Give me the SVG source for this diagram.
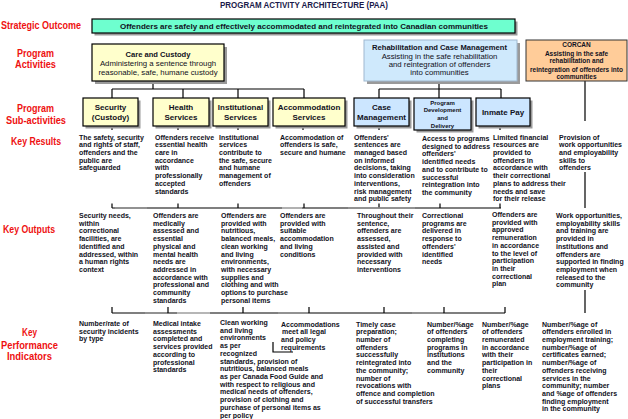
<svg xmlns="http://www.w3.org/2000/svg" width="628" height="419" viewBox="0 0 628 419">
<style>
.bg{fill:#fff}
.title{font-family:"Liberation Sans",Arial,sans-serif;font-weight:bold;font-size:8.6px;fill:#1a1a4a}
.lbl{font-family:"Liberation Sans",Arial,sans-serif;font-weight:bold;font-size:10.5px;fill:#ee1111}
.b{font-family:"Liberation Sans",Arial,sans-serif;font-weight:bold;font-size:7px;fill:#111122}
.hd{font-family:"Liberation Sans",Arial,sans-serif;font-weight:bold;font-size:7.6px;fill:#111122;text-anchor:middle}
.rg{font-family:"Liberation Sans",Arial,sans-serif;font-size:7.8px;fill:#111122;text-anchor:middle}
.sb{font-family:"Liberation Sans",Arial,sans-serif;font-weight:bold;font-size:8px;fill:#111122;text-anchor:middle}
.sm{font-family:"Liberation Sans",Arial,sans-serif;font-weight:bold;font-size:6px;fill:#111122;text-anchor:middle}
.cc{font-family:"Liberation Sans",Arial,sans-serif;font-weight:bold;font-size:6.5px;fill:#111122;text-anchor:middle}
.shadow{fill:#9a9a9a}
.yel{fill:#ffffcc;stroke:#000;stroke-width:1.2}
.blu{fill:#cce6ff;stroke:#000;stroke-width:1.2}
.conn{stroke:#000;stroke-width:1.2;fill:none}
.gray{stroke:#999;stroke-width:1.4;fill:none}
.lgray{stroke:#c8c8c8;stroke-width:1.4;fill:none}
</style>
<rect class="bg" x="0" y="0" width="628" height="419"/>

<text class="title" x="220" y="8" textLength="168" lengthAdjust="spacingAndGlyphs">PROGRAM ACTIVITY ARCHITECTURE (PAA)</text>

<g id="row-labels">
<text class="lbl" x="1" y="28.5" textLength="80" lengthAdjust="spacingAndGlyphs">Strategic Outcome</text>
<text class="lbl" x="17" y="57" textLength="37" lengthAdjust="spacingAndGlyphs">Program</text>
<text class="lbl" x="15" y="67.5" textLength="41" lengthAdjust="spacingAndGlyphs">Activities</text>
<text class="lbl" x="17" y="112" textLength="37" lengthAdjust="spacingAndGlyphs">Program</text>
<text class="lbl" x="6" y="123.5" textLength="60" lengthAdjust="spacingAndGlyphs">Sub-activities</text>
<text class="lbl" x="11" y="145" textLength="50" lengthAdjust="spacingAndGlyphs">Key Results</text>
<text class="lbl" x="3" y="232.5" textLength="52" lengthAdjust="spacingAndGlyphs">Key Outputs</text>
<text class="lbl" x="22" y="336" textLength="15" lengthAdjust="spacingAndGlyphs">Key</text>
<text class="lbl" x="1" y="349" textLength="57" lengthAdjust="spacingAndGlyphs">Performance</text>
<text class="lbl" x="7" y="360" textLength="45" lengthAdjust="spacingAndGlyphs">Indicators</text>
</g>

<g id="connectors">
<path class="conn" d="M153 81 V89 M112 89 H304 M112 89 V98 M183 89 V98 M238 89 V98 M304 89 V98"/>
<path class="conn" d="M439 81 V89 M379 89 H501 M379 89 V98 M439 89 V98 M501 89 V98"/>
<path class="conn" d="M112 126 V130 M178 126 V130 M238 126 V130 M303 126 V130 M379 126 V130 M500 126 V130"/>
<path class="conn" d="M112 208 H501 M112 203.5 V208 M178 203.5 V208 M238 203.5 V208 M304 203.5 V208 M379 203.5 V208 M440 203.5 V208 M500 203.5 V208"/>
<path class="gray" d="M115 208 H147 M348 208 H415"/>
<path class="lgray" d="M282 208 H302"/>
<path class="conn" d="M112 313 H505 M112 307 V313 M168 307 V313 M243 307 V313 M309 307 V313 M384 307 V313 M444 307 V313 M505 307 V313"/>
<path class="gray" d="M145 313 H167 M278 313 H308 M412 313 H443"/>
<path class="lgray" d="M177 313 H210"/>
<path class="conn" d="M585 81 V121 M585 172 V208 M585 290 V313"/>
<path class="conn" d="M273 342 V352 H293"/>
</g>

<g id="outcome">
<rect class="shadow" x="94.5" y="21.5" width="423" height="14"/>
<rect x="92" y="19" width="423" height="14" fill="#6effcf" stroke="#000" stroke-width="1.2"/>
<text class="hd" x="304" y="29" font-size="7.3" textLength="368" lengthAdjust="spacingAndGlyphs">Offenders are safely and effectively accommodated and reintegrated into Canadian communities</text>
</g>

<g id="care-custody">
<rect class="shadow" x="95" y="47" width="132" height="37"/>
<rect class="yel" x="92" y="44" width="132" height="37"/>
<text class="hd" x="158" y="57">Care and Custody</text>
<text class="rg" x="158" y="66">Administering a sentence through</text>
<text class="rg" x="158" y="74.5">reasonable, safe, humane custody</text>
</g>

<g id="rehab">
<rect class="shadow" x="367" y="43" width="153" height="41"/>
<rect x="364" y="40" width="153" height="41" fill="#cfe9fc" stroke="#9fb8cf" stroke-width="1"/>
<text class="hd" x="439.5" y="50" textLength="135" lengthAdjust="spacingAndGlyphs">Rehabilitation and Case Management</text>
<text class="rg" x="439.5" y="59">Assisting in the safe rehabilitation</text>
<text class="rg" x="439.5" y="67">and reintegration of offenders</text>
<text class="rg" x="439.5" y="75">into communities</text>
</g>

<g id="corcan">
<rect x="526" y="40" width="101" height="41" fill="#ffcc99" stroke="#333" stroke-width="1"/>
<text class="cc" x="576.5" y="47">CORCAN</text>
<text class="cc" x="576.5" y="55.5">Assisting in the safe</text>
<text class="cc" x="576.5" y="63">rehabilitation and</text>
<text class="cc" x="576.5" y="71.5">reintegration of offenders into</text>
<text class="cc" x="576.5" y="79">communities</text>
</g>

<g id="security">
<rect class="shadow" x="85.5" y="100.5" width="55" height="28"/>
<rect class="yel" x="83" y="98" width="55" height="28"/>
<text class="sb" x="110.5" y="109.5">Security</text>
<text class="sb" x="110.5" y="120">(Custody)</text>
</g>

<g id="health">
<rect class="shadow" x="155.5" y="100.5" width="56" height="28"/>
<rect class="yel" x="153" y="98" width="56" height="28"/>
<text class="sb" x="181" y="109.5">Health</text>
<text class="sb" x="181" y="120">Services</text>
</g>

<g id="institutional">
<rect class="shadow" x="215.5" y="100.5" width="55" height="28"/>
<rect class="yel" x="213" y="98" width="55" height="28"/>
<text class="sb" x="240.5" y="109.5">Institutional</text>
<text class="sb" x="240.5" y="120">Services</text>
</g>

<g id="accommodation">
<rect class="shadow" x="275.5" y="100.5" width="72" height="28"/>
<rect class="yel" x="273" y="98" width="72" height="28"/>
<text class="sb" x="309" y="109.5" font-size="7.6">Accommodation</text>
<text class="sb" x="309" y="120" font-size="7.6">Services</text>
</g>

<g id="case-management">
<rect class="shadow" x="356.5" y="100.5" width="55" height="28"/>
<rect class="blu" x="354" y="98" width="55" height="28"/>
<text class="sb" x="381.5" y="109.5">Case</text>
<text class="sb" x="381.5" y="120">Management</text>
</g>

<g id="program-development">
<rect class="shadow" x="416.5" y="100.5" width="57" height="32"/>
<rect class="blu" x="414" y="98" width="57" height="32"/>
<text class="sm" x="442.5" y="105">Program</text>
<text class="sm" x="442.5" y="112">Development</text>
<text class="sm" x="442.5" y="120">and</text>
<text class="sm" x="442.5" y="127.5">Delivery</text>
</g>

<g id="inmate-pay">
<rect class="shadow" x="478.5" y="100.5" width="54" height="28"/>
<rect class="blu" x="476" y="98" width="54" height="28"/>
<text class="sb" x="503" y="114.5">Inmate Pay</text>
</g>

<g id="key-results">
<text class="b" y="139.5"><tspan x="79">The safety, security</tspan><tspan x="79" dy="7.72">and rights of staff,</tspan><tspan x="79" dy="7.72">offenders and the</tspan><tspan x="79" dy="7.72">public are</tspan><tspan x="79" dy="7.72">safeguarded</tspan></text>
<text class="b" y="139.5"><tspan x="155">Offenders receive</tspan><tspan x="155" dy="7.72">essential health</tspan><tspan x="155" dy="7.72">care in</tspan><tspan x="155" dy="7.72">accordance</tspan><tspan x="155" dy="7.72">with</tspan><tspan x="155" dy="7.72">professionally</tspan><tspan x="155" dy="7.72">accepted</tspan><tspan x="155" dy="7.72">standards</tspan></text>
<text class="b" y="139.5"><tspan x="219">Institutional</tspan><tspan x="219" dy="7.72">services</tspan><tspan x="219" dy="7.72">contribute to</tspan><tspan x="219" dy="7.72">the safe, secure</tspan><tspan x="219" dy="7.72">and humane</tspan><tspan x="219" dy="7.72">management of</tspan><tspan x="219" dy="7.72">offenders</tspan></text>
<text class="b" y="139.5"><tspan x="280">Accommodation of</tspan><tspan x="280" dy="7.72">offenders is safe,</tspan><tspan x="280" dy="7.72">secure and humane</tspan></text>
<text class="b" y="139.5"><tspan x="354">Offenders'</tspan><tspan x="354" dy="7.72">sentences are</tspan><tspan x="354" dy="7.72">managed based</tspan><tspan x="354" dy="7.72">on informed</tspan><tspan x="354" dy="7.72">decisions, taking</tspan><tspan x="354" dy="7.72">into consideration</tspan><tspan x="354" dy="7.72">interventions,</tspan><tspan x="354" dy="7.72">risk management</tspan><tspan x="354" dy="7.72">and public safety</tspan></text>
<text class="b" y="141"><tspan x="422">Access to programs</tspan><tspan x="422" dy="7.72">designed to address</tspan><tspan x="422" dy="7.72">offenders'</tspan><tspan x="422" dy="7.72">identified needs</tspan><tspan x="422" dy="7.72">and to contribute to</tspan><tspan x="422" dy="7.72">successful</tspan><tspan x="422" dy="7.72">reintegration into</tspan><tspan x="422" dy="7.72">the community</tspan></text>
<text class="b" y="139.5"><tspan x="493">Limited financial</tspan><tspan x="493" dy="7.72">resources are</tspan><tspan x="493" dy="7.72">provided to</tspan><tspan x="493" dy="7.72">offenders in</tspan><tspan x="493" dy="7.72">accordance with</tspan><tspan x="493" dy="7.72">their correctional</tspan><tspan x="493" dy="7.72">plans  to address their</tspan><tspan x="493" dy="7.72">needs and save</tspan><tspan x="493" dy="7.72">for their release</tspan></text>
<text class="b" y="139.5"><tspan x="559">Provision of</tspan><tspan x="559" dy="7.72">work opportunities</tspan><tspan x="559" dy="7.72">and employability</tspan><tspan x="559" dy="7.72">skills to</tspan><tspan x="559" dy="7.72">offenders</tspan></text>
</g>

<g id="key-outputs">
<text class="b" y="218"><tspan x="79">Security needs,</tspan><tspan x="79" dy="7.72">within</tspan><tspan x="79" dy="7.72">correctional</tspan><tspan x="79" dy="7.72">facilities,  are</tspan><tspan x="79" dy="7.72">identified and</tspan><tspan x="79" dy="7.72">addressed, within</tspan><tspan x="79" dy="7.72">a human rights</tspan><tspan x="79" dy="7.72">context</tspan></text>
<text class="b" y="218"><tspan x="153">Offenders are</tspan><tspan x="153" dy="7.72">medically</tspan><tspan x="153" dy="7.72">assessed and</tspan><tspan x="153" dy="7.72">essential</tspan><tspan x="153" dy="7.72">physical and</tspan><tspan x="153" dy="7.72">mental health</tspan><tspan x="153" dy="7.72">needs are</tspan><tspan x="153" dy="7.72">addressed in</tspan><tspan x="153" dy="7.72">accordance with</tspan><tspan x="153" dy="7.72">professional and</tspan><tspan x="153" dy="7.72">community</tspan><tspan x="153" dy="7.72">standards</tspan></text>
<text class="b" y="218"><tspan x="221">Offenders are</tspan><tspan x="221" dy="7.72">provided with</tspan><tspan x="221" dy="7.72">nutritious,</tspan><tspan x="221" dy="7.72">balanced meals,</tspan><tspan x="221" dy="7.72">clean working</tspan><tspan x="221" dy="7.72">and living</tspan><tspan x="221" dy="7.72">environments,</tspan><tspan x="221" dy="7.72">with necessary</tspan><tspan x="221" dy="7.72">supplies and</tspan><tspan x="221" dy="7.72">clothing and with</tspan><tspan x="221" dy="7.72">options to purchase</tspan><tspan x="221" dy="7.72">personal items</tspan></text>
<text class="b" y="218"><tspan x="280">Offenders are</tspan><tspan x="280" dy="7.72">provided with</tspan><tspan x="280" dy="7.72">suitable</tspan><tspan x="280" dy="7.72">accommodation</tspan><tspan x="280" dy="7.72">and living</tspan><tspan x="280" dy="7.72">conditions</tspan></text>
<text class="b" y="218"><tspan x="357">Throughout their</tspan><tspan x="357" dy="7.72">sentence,</tspan><tspan x="357" dy="7.72">offenders are</tspan><tspan x="357" dy="7.72">assessed,</tspan><tspan x="357" dy="7.72">assisted and</tspan><tspan x="357" dy="7.72">provided with</tspan><tspan x="357" dy="7.72">necessary</tspan><tspan x="357" dy="7.72">interventions</tspan></text>
<text class="b" y="218"><tspan x="422">Correctional</tspan><tspan x="422" dy="7.72">programs are</tspan><tspan x="422" dy="7.72">delivered in</tspan><tspan x="422" dy="7.72">response to</tspan><tspan x="422" dy="7.72">offenders'</tspan><tspan x="422" dy="7.72">identified</tspan><tspan x="422" dy="7.72">needs</tspan></text>
<text class="b" y="217"><tspan x="492">Offenders are</tspan><tspan x="492" dy="7.72">provided with</tspan><tspan x="492" dy="7.72">approved</tspan><tspan x="492" dy="7.72">remuneration</tspan><tspan x="492" dy="7.72">in accordance</tspan><tspan x="492" dy="7.72">to the level of</tspan><tspan x="492" dy="7.72">participation</tspan><tspan x="492" dy="7.72">in their</tspan><tspan x="492" dy="7.72">correctional</tspan><tspan x="492" dy="7.72">plan</tspan></text>
<text class="b" y="218"><tspan x="556">Work opportunities,</tspan><tspan x="556" dy="7.72">employability skills</tspan><tspan x="556" dy="7.72">and training are</tspan><tspan x="556" dy="7.72">provided in</tspan><tspan x="556" dy="7.72">institutions and</tspan><tspan x="556" dy="7.72">offenders are</tspan><tspan x="556" dy="7.72">supported in finding</tspan><tspan x="556" dy="7.72">employment when</tspan><tspan x="556" dy="7.72">released to the</tspan><tspan x="556" dy="7.72">community</tspan></text>
</g>

<g id="kpis">
<text class="b" y="326"><tspan x="79">Number/rate of</tspan><tspan x="79" dy="7.72">security incidents</tspan><tspan x="79" dy="7.72">by type</tspan></text>
<text class="b" y="326"><tspan x="153">Medical intake</tspan><tspan x="153" dy="7.72">assessments</tspan><tspan x="153" dy="7.72">completed and</tspan><tspan x="153" dy="7.72">services provided</tspan><tspan x="153" dy="7.72">according to</tspan><tspan x="153" dy="7.72">professional</tspan><tspan x="153" dy="7.72">standards</tspan></text>
<text class="b" y="325"><tspan x="220">Clean working</tspan><tspan x="220" dy="7.72">and living</tspan><tspan x="220" dy="7.72">environments</tspan><tspan x="220" dy="7.72">as per</tspan><tspan x="220" dy="7.72">recognized</tspan><tspan x="220" dy="7.72">standards, provision of</tspan><tspan x="220" dy="7.72">nutritious, balanced meals</tspan><tspan x="220" dy="7.72">as per Canada Food Guide and</tspan><tspan x="220" dy="7.72">with respect to religious and</tspan><tspan x="220" dy="7.72">medical needs of offenders,</tspan><tspan x="220" dy="7.72">provision of clothing and</tspan><tspan x="220" dy="7.72">purchase of personal items as</tspan><tspan x="220" dy="7.72">per policy</tspan></text>
<text class="b" y="326.5"><tspan x="281">Accommodations</tspan><tspan x="282" dy="7.72">meet all legal</tspan><tspan x="281" dy="7.72">and policy</tspan><tspan x="281" dy="7.72">requirements</tspan></text>
<text class="b" y="326.5"><tspan x="356">Timely case</tspan><tspan x="356" dy="7.72">preparation;</tspan><tspan x="356" dy="7.72">number of</tspan><tspan x="356" dy="7.72">offenders</tspan><tspan x="356" dy="7.72">successfully</tspan><tspan x="356" dy="7.72">reintegrated into</tspan><tspan x="356" dy="7.72">the community;</tspan><tspan x="356" dy="7.72">number of</tspan><tspan x="356" dy="7.72">revocations with</tspan><tspan x="356" dy="7.72">offence and completion</tspan><tspan x="356" dy="7.72">of successful transfers</tspan></text>
<text class="b" y="326.5"><tspan x="427">Number/%age</tspan><tspan x="427" dy="7.72">of offenders</tspan><tspan x="427" dy="7.72">completing</tspan><tspan x="427" dy="7.72">programs in</tspan><tspan x="427" dy="7.72">institutions</tspan><tspan x="427" dy="7.72">and the</tspan><tspan x="427" dy="7.72">community</tspan></text>
<text class="b" y="326.5"><tspan x="482">Number/%age</tspan><tspan x="482" dy="7.72">of offenders</tspan><tspan x="482" dy="7.72">remunerated</tspan><tspan x="482" dy="7.72">in accordance</tspan><tspan x="482" dy="7.72">with their</tspan><tspan x="482" dy="7.72">participation in</tspan><tspan x="482" dy="7.72">their</tspan><tspan x="482" dy="7.72">correctional</tspan><tspan x="482" dy="7.72">plans</tspan></text>
<text class="b" y="326.5"><tspan x="542">Number/%age of</tspan><tspan x="542" dy="7.72">offenders enrolled in</tspan><tspan x="542" dy="7.72">employment training;</tspan><tspan x="542" dy="7.72">number/%age of</tspan><tspan x="542" dy="7.72">certificates earned;</tspan><tspan x="542" dy="7.72">number/%age of</tspan><tspan x="542" dy="7.72">offenders receiving</tspan><tspan x="542" dy="7.72">services in the</tspan><tspan x="542" dy="7.72">community; number</tspan><tspan x="542" dy="7.72">and %age of offenders</tspan><tspan x="542" dy="7.72">finding employment</tspan><tspan x="542" dy="7.72">in the community</tspan></text>
</g>
</svg>
